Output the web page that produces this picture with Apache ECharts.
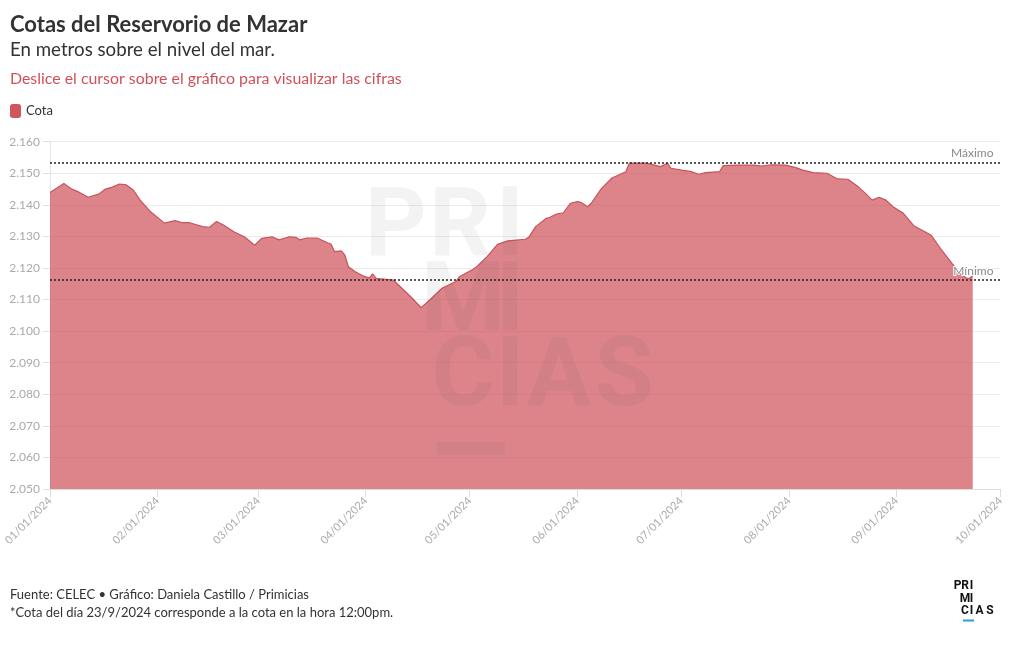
<!DOCTYPE html>
<html>
<head>
<meta charset="utf-8">
<script src="https://cdn.jsdelivr.net/npm/echarts@6/dist/echarts.min.js"></script>
<style>
html,body{margin:0;padding:0;background:#fff;}
#chart{width:1020px;height:650px;}
</style>
</head>
<body>
<div id="chart"></div>
<script>
// ---- Data ----
const fechas = [
'2024-01-01','2024-01-05','2024-01-07','2024-01-09','2024-01-12','2024-01-15','2024-01-17','2024-01-19','2024-01-21','2024-01-23','2024-01-25','2024-01-27','2024-01-30',
'2024-02-03','2024-02-06','2024-02-08','2024-02-10','2024-02-14','2024-02-16','2024-02-18','2024-02-20','2024-02-23','2024-02-26','2024-02-29',
'2024-03-02','2024-03-05','2024-03-07','2024-03-10','2024-03-12','2024-03-13','2024-03-15','2024-03-18','2024-03-21','2024-03-22','2024-03-23','2024-03-25','2024-03-26','2024-03-27','2024-03-29','2024-03-31',
'2024-04-02','2024-04-03','2024-04-04','2024-04-09','2024-04-10','2024-04-14','2024-04-17','2024-04-20','2024-04-23','2024-04-27','2024-04-28',
'2024-05-02','2024-05-03','2024-05-06','2024-05-09','2024-05-12','2024-05-17','2024-05-18','2024-05-20','2024-05-23','2024-05-24','2024-05-26','2024-05-28','2024-05-30',
'2024-06-01','2024-06-02','2024-06-04','2024-06-05','2024-06-08','2024-06-11','2024-06-15','2024-06-16','2024-06-21','2024-06-25','2024-06-27','2024-06-28',
'2024-07-01','2024-07-04','2024-07-06','2024-07-08','2024-07-12','2024-07-13','2024-07-17','2024-07-22','2024-07-24','2024-07-27','2024-07-31',
'2024-08-03','2024-08-05','2024-08-08','2024-08-12','2024-08-15','2024-08-18','2024-08-21','2024-08-23','2024-08-25','2024-08-27','2024-08-29','2024-08-31',
'2024-09-03','2024-09-06','2024-09-10','2024-09-11','2024-09-14','2024-09-17','2024-09-19','2024-09-21','2024-09-22','2024-09-23'
];
const cota = [
2143.9,2146.8,2145.2,2144.2,2142.4,2143.4,2145.0,2145.6,2146.6,2146.3,2144.7,2141.5,2137.8,
2134.2,2135.0,2134.4,2134.4,2133.1,2132.9,2134.7,2133.6,2131.5,2129.9,2127.2,
2129.4,2129.9,2128.9,2129.9,2129.7,2128.9,2129.5,2129.5,2128.0,2127.6,2125.2,2125.4,2124.1,2120.4,2118.8,2117.6,
2116.8,2118.1,2116.7,2116.2,2115.1,2110.9,2107.4,2110.4,2113.6,2115.7,2117.2,
2119.6,2120.4,2123.6,2127.5,2128.6,2129.1,2129.7,2133.1,2135.7,2136.0,2137.1,2137.5,2140.5,
2141.0,2140.8,2139.4,2140.5,2145.2,2148.5,2150.5,2153.2,2153.2,2152.1,2153.2,2151.6,
2151.0,2150.5,2149.7,2150.2,2150.5,2152.4,2152.6,2152.6,2152.3,2152.7,2152.6,
2151.8,2151.0,2150.2,2150.0,2148.2,2148.1,2145.7,2143.7,2141.5,2142.4,2141.5,2139.4,
2137.3,2133.4,2131.0,2130.4,2125.7,2121.5,2118.8,2116.9,2116.6,2117.6
];
const cotaMaxima = 2153.4;
const cotaMinima = 2116.3;
const yMin = 2050, yMax = 2160, yStep = 10;
const xInicio = '2024-01-01', xFin = '2024-10-01';
const serieNombre = 'Cota';

// ---- Chart ----
const FONT = 'Lato, "Noto Sans", sans-serif';
const chart = echarts.init(document.getElementById('chart'), null, {renderer:'canvas'});
const pad = n => (n < 10 ? '0' : '') + n;
const wmColor = 'rgba(90,90,90,0.07)';
const wmFont = 'bold 96px Roboto, "DejaVu Sans", sans-serif';
function wmLetter(t, cx, cy){
  return {type:'text', x:cx, y:cy, z:100, silent:true,
    style:{text:t, font:wmFont, fill:wmColor, align:'center', verticalAlign:'middle'}};
}
const logoFont = 'bold 12px Roboto, "DejaVu Sans", sans-serif';
function logoLetter(t, cx, cy){
  return {type:'text', x:cx, y:cy, z:100, silent:true,
    style:{text:t, font:logoFont, fill:'#111', align:'center', verticalAlign:'middle'}};
}

const option = {
  animation:false,
  backgroundColor:'#fff',
  textStyle:{fontFamily:FONT},
  title:[
    {text:'Cotas del Reservorio de Mazar', left:5, top:9,
     textStyle:{fontSize:22, fontWeight:'bold', color:'#333', fontFamily:FONT}},
    {text:'En metros sobre el nivel del mar.', left:5, top:35,
     textStyle:{fontSize:18.7, fontWeight:'normal', color:'#333', fontFamily:FONT}},
    {text:'Deslice el cursor sobre el gráfico para visualizar las cifras', left:5, top:66,
     textStyle:{fontSize:15.9, fontWeight:'normal', color:'#d0505a', fontFamily:FONT}},
    {text:'Fuente: CELEC • Gráfico: Daniela Castillo / Primicias\n*Cota del día 23/9/2024 corresponde a la cota en la hora 12:00pm.',
     left:5, top:581,
     textStyle:{fontSize:13, fontWeight:'normal', color:'#333', lineHeight:18, fontFamily:FONT}}
  ],
  legend:{
    left:5, top:99, itemWidth:11, itemHeight:14, itemGap:10,
    textStyle:{fontSize:13, color:'#333', fontFamily:FONT},
    data:[{name:serieNombre, icon:'roundRect', itemStyle:{color:'#d0555c'}}]
  },
  grid:{left:50, right:19.5, top:141.7, bottom:161, containLabel:false},
  xAxis:{
    type:'time',
    min:xInicio, max:xFin,
    minInterval:28*86400000, maxInterval:31*86400000,
    splitNumber:9,
    axisLine:{show:true, lineStyle:{color:'#dddddd'}},
    axisTick:{show:true, length:8, lineStyle:{color:'#dddddd'}},
    splitLine:{show:false},
    axisLabel:{
      rotate:45, color:'#aaaaaa', fontSize:11, fontFamily:FONT, margin:10,
      showMinLabel:true, showMaxLabel:true, hideOverlap:false,
      formatter:function(v){
        const d = new Date(v);
        return pad(d.getMonth()+1)+'/'+pad(d.getDate())+'/'+d.getFullYear();
      }
    }
  },
  yAxis:{
    type:'value', min:yMin, max:yMax, interval:yStep,
    axisLine:{show:true, lineStyle:{color:'#e6e6e6'}},
    axisTick:{show:true, length:7, lineStyle:{color:'#e0e0e0'}},
    splitLine:{show:true, lineStyle:{color:'#ececec', width:1}},
    axisLabel:{color:'#aaaaaa', fontSize:12, fontFamily:FONT, margin:10,
      formatter:function(v){ return (v/1000).toFixed(3); }}
  },
  series:[{
    name:serieNombre,
    type:'line',
    data:fechas.map((f,i)=>[f, cota[i]]),
    showSymbol:false,
    smooth:false,
    lineStyle:{color:'#c9535a', width:1.2},
    itemStyle:{color:'#d0555c'},
    areaStyle:{color:'#cd5058', opacity:0.7, origin:'start'},
    z:2,
    markLine:{
      silent:true, symbol:'none',
      lineStyle:{color:'#222', type:[2,2], width:1.6},
      label:{position:'insideEndTop', color:'#8a8a8a', fontSize:12, fontFamily:FONT,
        textBorderColor:'#fff', textBorderWidth:2, distance:[7,3]},
      data:[
        {yAxis:cotaMaxima, label:{formatter:'Máximo'}},
        {yAxis:cotaMinima, label:{formatter:'Mínimo'}}
      ]
    }
  }],
  graphic:[
    wmLetter('P',396,231), wmLetter('R',460,231), wmLetter('I',510,231),
    wmLetter('M',463,306), wmLetter('I',510,306),
    wmLetter('C',463,381), wmLetter('I',510,381), wmLetter('A',559,381), wmLetter('S',624,381),
    {type:'rect', z:100, silent:true, shape:{x:437,y:442,width:68,height:13}, style:{fill:wmColor}},
    logoLetter('P',957.5,586), logoLetter('R',965,586), logoLetter('I',971.5,586),
    logoLetter('M',965,598.5), logoLetter('I',971.5,598.5),
    logoLetter('C',965,611), logoLetter('I',971.5,611), logoLetter('A',979.5,611), logoLetter('S',990,611),
    {type:'rect', z:100, silent:true, shape:{x:963,y:619.5,width:11,height:2}, style:{fill:'#2a9fd6'}}
  ]
};
chart.setOption(option);
</script>
</body>
</html>
